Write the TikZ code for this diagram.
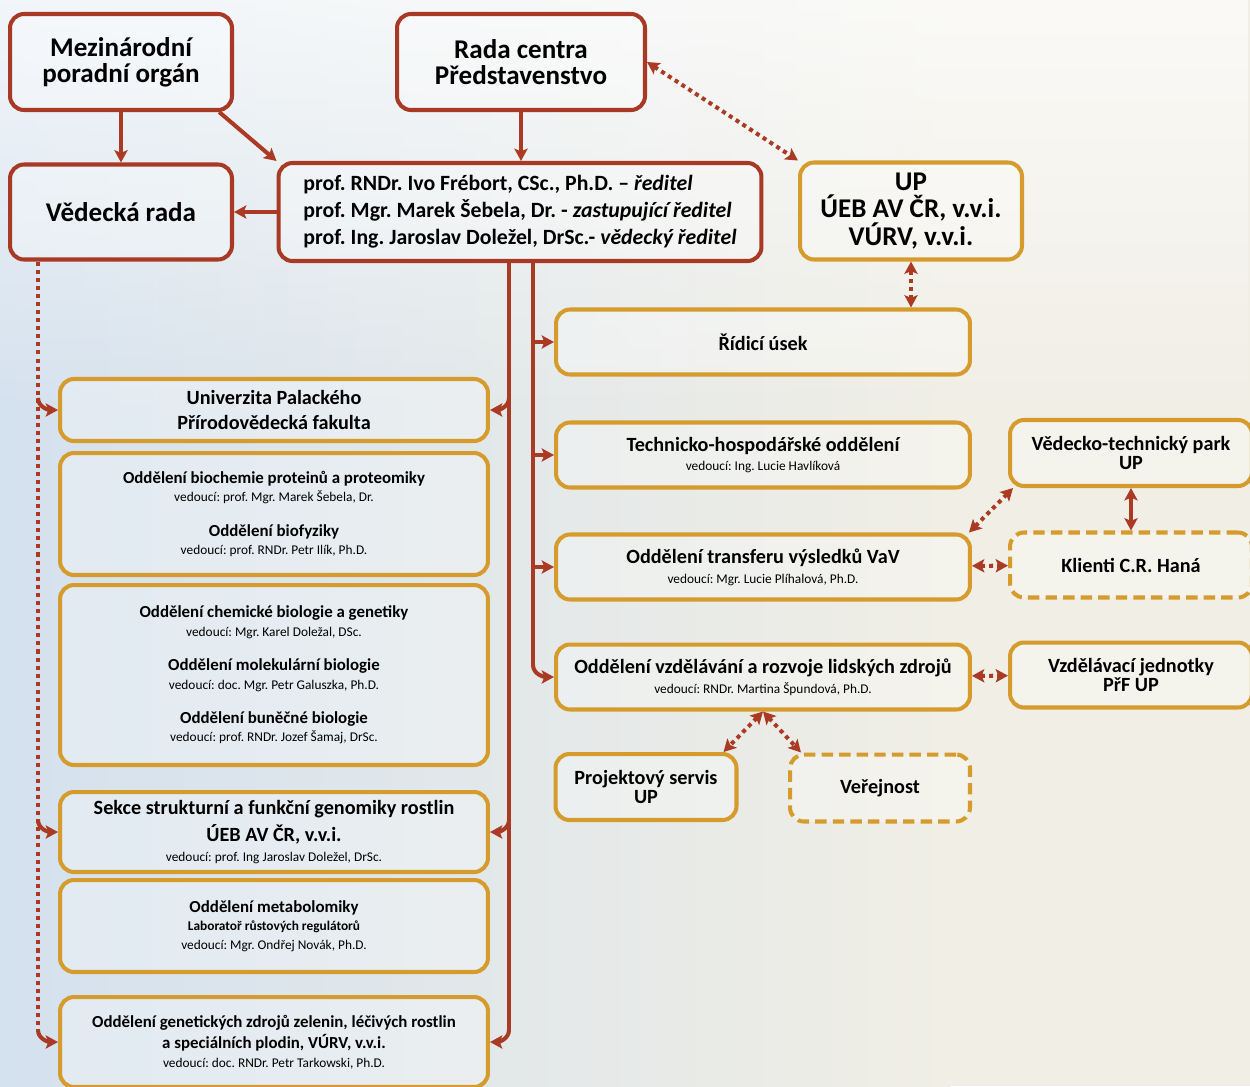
\documentclass[tikz,border=0pt]{standalone}
\usepackage{fontspec}
\setmainfont{Carlito}
\usetikzlibrary{positioning, arrows.meta, calc, fadings}
\frenchspacing

\definecolor{boxred}{RGB}{168,57,36}
\definecolor{boxgold}{RGB}{214,155,45}
\definecolor{linkred}{RGB}{170,58,35}
\definecolor{bgleft}{RGB}{212,225,238}
\definecolor{bgmid}{RGB}{198,202,207}
\definecolor{bgright}{RGB}{240,238,229}

\newcommand{\fntbig}{\fontsize{15.4}{15}\selectfont\bfseries}
\newcommand{\fntdir}{\fontsize{12.4}{15.3}\selectfont\bfseries}
\newcommand{\fntmid}{\fontsize{11.5}{11.3}\selectfont\bfseries}
\newcommand{\fntdep}{\fontsize{9.6}{10.5}\selectfont\bfseries}
\newcommand{\fntlead}{\fontsize{7.6}{8}\selectfont\mdseries}

\begin{document}
\begin{tikzpicture}[x=0.02cm, y=-0.02cm,
	redbox/.style={draw=boxred, line width=2.3pt, rounded corners=0.28cm,
		fill=white, fill opacity=0.3, text opacity=1, align=center, inner sep=0pt},
	goldbox/.style={redbox, draw=boxgold},
	dashbox/.style={goldbox, dash pattern=on 6.5pt off 3.5pt},
	leftbox/.style={goldbox, minimum width=8.56cm},
	rightbox/.style={goldbox, font=\fntmid, minimum width=8.28cm, minimum height=1.3cm},
	line/.style={draw=linkred, line width=2.3pt},
	dotline/.style={line, dash pattern=on 2.3pt off 2.3pt},
	>={Stealth[length=7pt, width=7.5pt, inset=1.5pt]},
	conn/.style={line, ->},
	dconn/.style={dotline, <->}]
	\useasboundingbox (0,0) rectangle (1250,1086);
	\clip (0,0) rectangle (1250,1086);
	% Background
	\shade[left color=bgleft, middle color=bgmid, right color=bgright] (0,0) rectangle (950,1086);
	\fill[bgright] (950,0) rectangle (1250,1086);
	\fill[white, path fading=south, opacity=0.7] (0,0) rectangle (1250,420);
	% Top boxes
	\node[redbox, font=\fntbig, minimum width=4.44cm, minimum height=1.92cm] (mezi) at (121,62) {Mezinárodní\\poradní orgán};
	\node[redbox, font=\fntbig, minimum width=4.96cm, minimum height=1.92cm] (rada) at (521,62) {Rada centra\\Představenstvo};
	\node[redbox, font=\fntbig, minimum width=4.44cm, minimum height=1.9cm] (vrada) at (121,212) {Vědecká rada};
	\node[redbox, font=\fntdir, align=left, minimum width=9.66cm, minimum height=1.96cm] (dir) at (520,212)
		{prof. RNDr. Ivo Frébort, CSc., Ph.D. – \textit{ředitel}\\
		 prof. Mgr. Marek Šebela, Dr. - \textit{zastupující ředitel}\\
		 prof. Ing. Jaroslav Doležel, DrSc.- \textit{vědecký ředitel}};
	\node[goldbox, font=\fntbig, minimum width=4.44cm, minimum height=1.94cm] (up) at (911,211) {UP\\ÚEB AV ČR, v.v.i.\\VÚRV, v.v.i.};
	% Right column
	\node[rightbox] (ridici) at (763,342) {Řídicí úsek};
	\node[rightbox] (tho) at (763,455) {Technicko-hospodářské oddělení\\{\fntlead vedoucí: Ing. Lucie Havlíková}};
	\node[rightbox] (transfer) at (763,567) {Oddělení transferu výsledků VaV\\{\fntlead vedoucí: Mgr. Lucie Plíhalová, Ph.D.}};
	\node[rightbox] (vzdel) at (763,677) {Oddělení vzdělávání a rozvoje lidských zdrojů\\{\fntlead vedoucí: RNDr. Martina Špundová, Ph.D.}};
	\node[goldbox, font=\fntmid, minimum width=4.84cm, minimum height=1.32cm] (vtp) at (1131,453) {Vědecko-technický park\\UP};
	\node[dashbox, font=\fntmid, minimum width=4.84cm, minimum height=1.3cm] (klienti) at (1131,565) {Klienti C.R. Haná};
	\node[goldbox, font=\fntmid, minimum width=4.84cm, minimum height=1.3cm] (vzj) at (1131,675) {Vzdělávací jednotky\\PřF UP};
	\node[goldbox, font=\fntmid, minimum width=3.62cm, minimum height=1.32cm] (proj) at (646,787) {Projektový servis\\UP};
	\node[dashbox, font=\fntmid, minimum width=3.6cm, minimum height=1.34cm] (verej) at (880,788) {Veřejnost};
	% Left column
	\node[leftbox, font=\fntmid, minimum height=1.24cm] (upol) at (274,410) {Univerzita Palackého\\[2.8pt]Přírodovědecká fakulta};
	\node[leftbox, font=\fntdep, minimum height=2.44cm] (biochem) at (274,514)
		{Oddělení biochemie proteinů a proteomiky\\{\fntlead vedoucí: prof. Mgr. Marek Šebela, Dr.}\\[9pt]
		 Oddělení biofyziky\\{\fntlead vedoucí: prof. RNDr. Petr Ilík, Ph.D.}};
	\node[leftbox, font=\fntdep, minimum height=3.6cm] (chem) at (274,675)
		{Oddělení chemické biologie a genetiky\\{\fntlead vedoucí: Mgr. Karel Doležal, DSc.}\\[9pt]
		 Oddělení molekulární biologie\\{\fntlead vedoucí: doc. Mgr. Petr Galuszka, Ph.D.}\\[9pt]
		 Oddělení buněčné biologie\\{\fntlead vedoucí: prof. RNDr. Jozef Šamaj, DrSc.}};
	\node[leftbox, font=\fntmid, minimum height=1.6cm] (sekce) at (274,832)
		{Sekce strukturní a funkční genomiky rostlin\\[2.5pt]ÚEB AV ČR, v.v.i.\\{\fntlead vedoucí: prof. Ing Jaroslav Doležel, DrSc.}};
	\node[leftbox, font=\fntdep, minimum height=1.84cm] (metab) at (274,926)
		{Oddělení metabolomiky\\{\fntlead\bfseries Laboratoř růstových regulátorů}\\{\fntlead vedoucí: Mgr. Ondřej Novák, Ph.D.}};
	\node[leftbox, font=\fntdep, minimum height=1.8cm] (genet) at (274,1042)
		{Oddělení genetických zdrojů zelenin, léčivých rostlin\\[1.5pt]a speciálních plodin, VÚRV, v.v.i.\\{\fntlead vedoucí: doc. RNDr. Petr Tarkowski, Ph.D.}};
	% Spines
	\coordinate (spineL) at (38,0);
	\coordinate (spineM) at (509,0);
	\coordinate (spineR) at (533,0);
	% Connectors
	\draw[conn] (mezi) -- (vrada);
	\draw[conn] (mezi.-27) -- (dir.north west);
	\draw[conn] (rada) -- (rada |- dir.north);
	\draw[conn] (dir) -- (vrada);
	\draw[dconn] (rada.east) -- (up.north west);
	\draw[dconn] (up) -- (up |- ridici.north);
	\draw[dotline] (vrada.south -| spineL) -- ($(spineL |- genet.west)+(0,-12)$);
	\foreach \b in {upol, sekce, genet}
		\draw[conn] ($(spineL |- \b.west)+(0,-12)$) to[out=-90, in=180] (\b.west);
	\draw[line] (dir.south -| spineM) -- ($(spineM |- genet.east)+(0,-12)$);
	\foreach \b in {upol, sekce, genet}
		\draw[conn] ($(spineM |- \b.east)+(0,-12)$) to[out=-90, in=0] (\b.east);
	\draw[line] (dir.south -| spineR) -- ($(spineR |- vzdel.west)+(0,-12)$);
	\foreach \b in {ridici, tho, transfer}
		\draw[conn] (spineR |- \b.west) -- (\b.west);
	\draw[conn] ($(spineR |- vzdel.west)+(0,-12)$) to[out=-90, in=180] (vzdel.west);
	\draw[dconn] ([xshift=0.1cm]vtp.south west) -- ([xshift=-0.06cm]transfer.north east);
	\draw[line, <->] (vtp) -- (klienti);
	\draw[dconn] (transfer) -- (klienti);
	\draw[dconn] (vzdel) -- (vzj);
	\draw[dconn] (vzdel.south) -- ([xshift=-0.3cm]proj.north east);
	\draw[dconn] (vzdel.south) -- ([xshift=0.26cm]verej.north west);
\end{tikzpicture}
\end{document}
